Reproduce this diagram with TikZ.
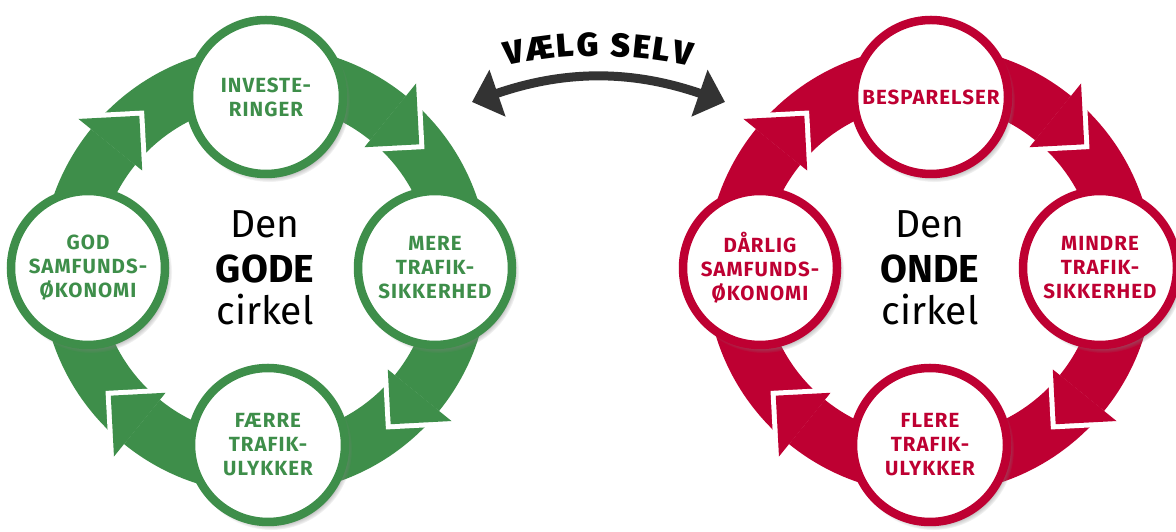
\documentclass[tikz,border=0pt]{standalone}
\usepackage{fontspec}
\setmainfont{Fira Sans}
\newfontfamily\heavyfont{Fira Sans Black}
\usetikzlibrary{calc,shadows,decorations.text,arrows.meta}
\definecolor{gcol}{RGB}{62,142,74}
\definecolor{rcol}{RGB}{190,0,50}
\definecolor{acol}{RGB}{51,51,51}
\newcommand\nodefont{\fontsize{20.5pt}{24pt}\bfseries\addfontfeatures{LetterSpace=5}\selectfont}
\newcommand\bigfontL{\fontsize{39pt}{44pt}\selectfont}
\newcommand\bigfontB{\fontsize{39pt}{44pt}\bfseries\selectfont}
\newcommand\drawring[2]{%
  \foreach \b in {51,-39,-129,141} {
    \fill[#2] ($(#1)+(\b:224)$) arc[start angle=\b, end angle=\b+90, radius=224]
      -- ($(#1)+(\b+90:167)$) arc[start angle=\b+90, end angle=\b, radius=167] -- cycle;
  }
  \foreach \b in {51,-39,-129,141} {
    \draw[white, line width=10pt, line join=miter]
      ($(#1)+(\b:240)$) -- ($(#1)+(\b:199)+(\b-96:41)$) -- ($(#1)+(\b:158)$);
    \fill[#2] ($(#1)+(\b:240)$) -- ($(#1)+(\b:199)+(\b-96:41)$) -- ($(#1)+(\b:158)$) -- cycle;
  }%
}
\tikzset{
  cnode/.style={circle, draw=#1, line width=8.5pt, fill=white, minimum size=154pt,
    inner sep=0pt, align=center, text=#1, font=\nodefont,
    circular drop shadow={shadow xshift=3pt, shadow yshift=-4pt, shadow scale=1.05}},
  ltxt/.style={anchor=base, font=\bigfontL, text=black},
  btxt/.style={anchor=base, font=\bigfontB, text=black},
  choice/.style={draw=acol, line width=9pt, {Triangle[length=27pt,width=48pt]}-{Triangle[length=27pt,width=48pt]}},
}
\begin{document}
\begin{tikzpicture}[x=1pt,y=1pt]
\useasboundingbox (0,0) rectangle (1176,532);
\coordinate (CL) at (265,262);
\coordinate (CR) at (930,262);
\drawring{CL}{gcol}
\drawring{CR}{rcol}
% left cycle nodes
\node[cnode=gcol] (inv) at (266,435) {INVESTE-\\RINGER};
\node[cnode=gcol] (mere) at (435,264) {MERE\\TRAFIK-\\SIKKERHED};
\node[cnode=gcol] (faerre) at (268,87) {FÆRRE\\TRAFIK-\\ULYKKER};
\node[cnode=gcol] (god) at (88,264) {GOD\\SAMFUNDS-\\ØKONOMI};
\node[ltxt] (denL) at (265,294) {Den};
\node[btxt] (godeL) at (265,249) {GODE};
\node[ltxt] (cirkL) at (265,207) {cirkel};
% right cycle nodes
\node[cnode=rcol] (besp) at (931,435) {BESPARELSER};
\node[cnode=rcol] (mindre) at (1100,264) {MINDRE\\TRAFIK-\\SIKKERHED};
\node[cnode=rcol] (flere) at (930,87) {FLERE\\TRAFIK-\\ULYKKER};
\node[cnode=rcol] (darlig) at (760,264) {DÅRLIG\\SAMFUNDS-\\ØKONOMI};
\node[ltxt] (denR) at (930,294) {Den};
\node[btxt] (ondeR) at (930,249) {ONDE};
\node[ltxt] (cirkR) at (930,207) {cirkel};
% choice arrow
\coordinate (vl) at (472,430);
\coordinate (vr) at (725,430);
\draw[choice] (vl) to[bend left=19] (vr);
\path[decorate, decoration={text along path, text align={fit to path},
   text={|\heavyfont\fontsize{33pt}{38pt}\selectfont|VÆLG{ }SELV}}]
   ($(598,48)+(102.4:428)$) arc[start angle=102.4, end angle=77.6, radius=428];
\end{tikzpicture}
\end{document}
